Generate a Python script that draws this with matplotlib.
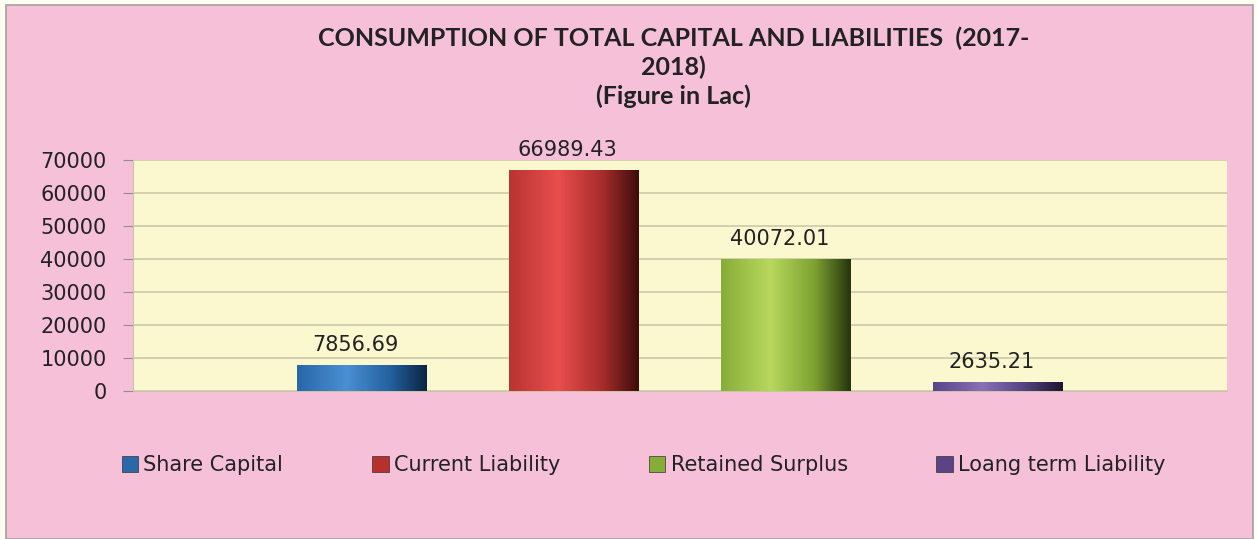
import numpy as np
import matplotlib.pyplot as plt
from matplotlib.patches import Rectangle
from matplotlib.colors import LinearSegmentedColormap

series = ['Share Capital', 'Current Liability', 'Retained Surplus', 'Loang term Liability']
values = [7856.69, 66989.43, 40072.01, 2635.21]
labels = ['7856.69', '66989.43', '40072.01', '2635.21']
# (edge, highlight, mid, dark) per series
shades = [('#2866a8', '#4a90d2', '#23609e', '#0c2442'),
          ('#b83432', '#e84e4c', '#a82c2c', '#3e0c0c'),
          ('#86ad38', '#b8d85c', '#7ea232', '#26340c'),
          ('#5a4486', '#8a70b8', '#52407c', '#1e1432')]
legend_colors = ['#2a68aa', '#b8302e', '#86ad38', '#5a4486']
title = 'CONSUMPTION OF TOTAL CAPITAL AND LIABILITIES  (2017-\n2018)\n(Figure in Lac)'

pink = '#f7c0d9'
fig = plt.figure(figsize=(12.57, 5.39), dpi=100, facecolor='#fffdf0')
fig.patches.append(Rectangle((6 / 1257, 0), 1247 / 1257, 534 / 539, transform=fig.transFigure,
                             facecolor=pink, edgecolor='#a0a0a0', linewidth=1.2, zorder=-10))

ax = fig.add_axes([133 / 1257, 1 - 391 / 539, 1094 / 1257, 231 / 539])
ax.set_facecolor('#fbf7cf')

x = np.arange(len(values))
bw = 0.61
bars = ax.bar(x, values, width=bw, color='none', edgecolor='none', zorder=3)
grad = np.linspace(0, 1, 256).reshape(1, -1)
for b, sh in zip(bars, shades):
    cmap = LinearSegmentedColormap.from_list('g', [(0, sh[0]), (0.38, sh[1]), (0.72, sh[2]), (1, sh[3])])
    x0, y0 = b.get_x(), b.get_y()
    im = ax.imshow(grad, cmap=cmap, extent=[x0, x0 + b.get_width(), y0, y0 + b.get_height()],
                   aspect='auto', zorder=3, interpolation='bicubic')
    im.set_clip_path(b)

for xi, v, lab in zip(x, values, labels):
    ax.text(xi - 0.03, v + 3000, lab, ha='center', va='bottom', fontsize=15, color='#222222', zorder=4)

ax.set_xlim(-1.08, 4.08)
ax.set_ylim(0, 70000)
ax.set_yticks(range(0, 70001, 10000))
ax.yaxis.grid(True, color='#cdc9ad', linewidth=1.2, zorder=0)
ax.set_axisbelow(True)
ax.set_xticks([])
for s in ['top', 'right']:
    ax.spines[s].set_visible(False)
ax.spines['left'].set_color('#c8c4a8')
ax.spines['bottom'].set_color('#c8c4a8')
ax.tick_params(axis='y', length=7, color='#909090', labelsize=15, labelcolor='#222222', pad=12)

fig.text(0.536, 1 - 67 / 539, title, ha='center', va='center', fontsize=18, fontweight='bold',
         family='Lato', color='#222222', linespacing=1.28)

handles = [Rectangle((0, 0), 1, 1, facecolor=c, edgecolor='#333333', linewidth=0.5) for c in legend_colors]
fig.legend(handles, series, loc='center', bbox_to_anchor=(0.512, 1 - 465 / 539), ncol=4, frameon=False,
           fontsize=15, handlelength=0.8, handleheight=0.8, handletextpad=0.25, columnspacing=4.25,
           labelcolor='#222222')

fig.savefig('out.png', dpi=100, facecolor=fig.get_facecolor())
